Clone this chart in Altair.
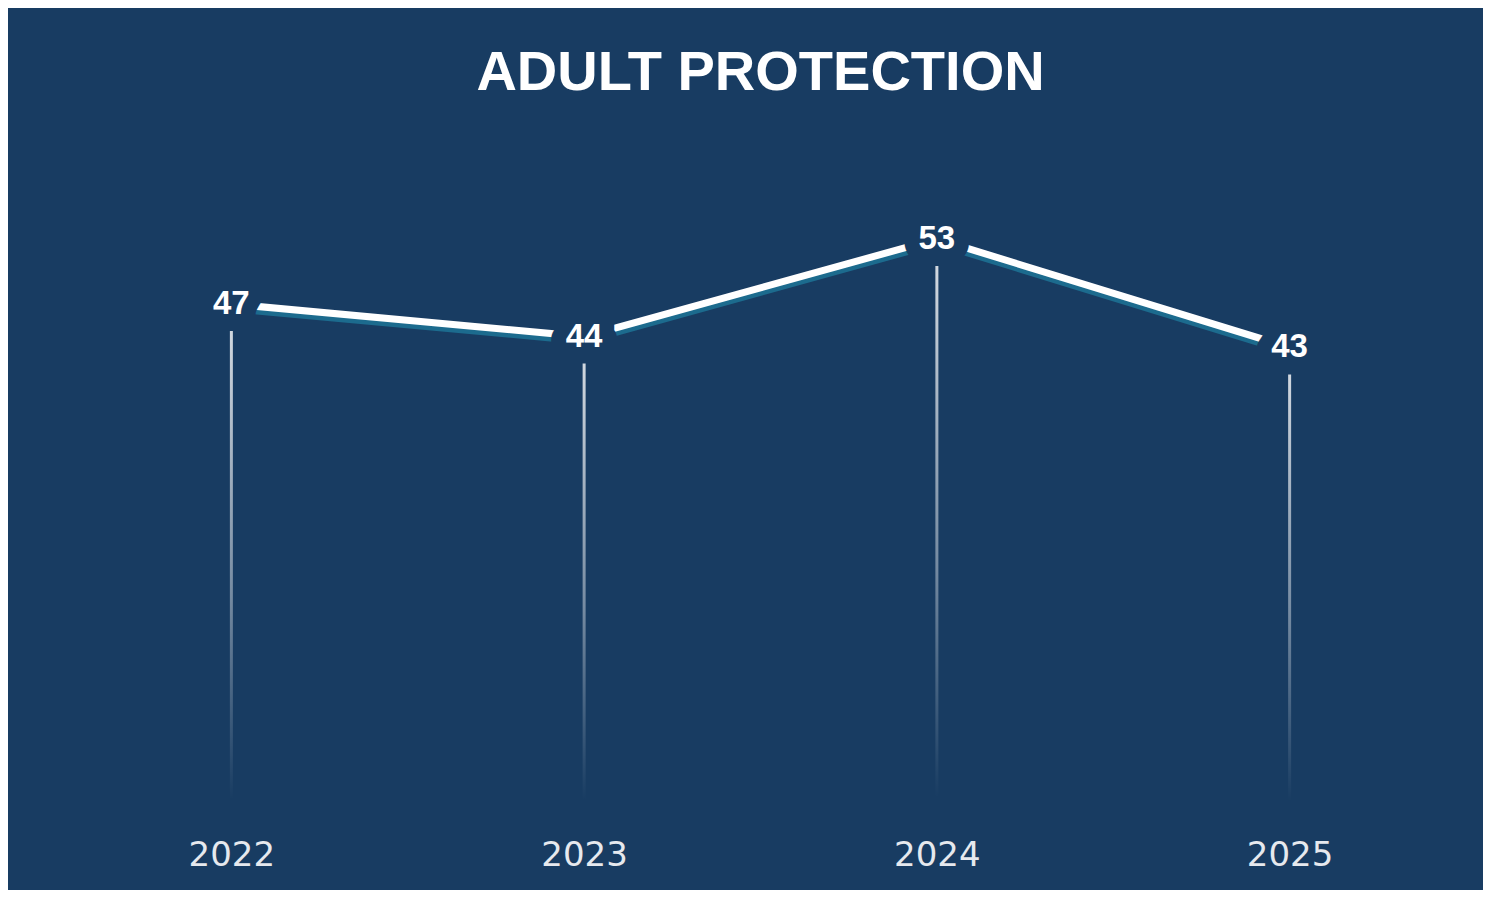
import altair as alt
import pandas as pd

years = ["2022", "2023", "2024", "2025"]
values = [47, 44, 53, 43]
df = pd.DataFrame({"year": years, "value": values})

BG = "#183c62"

x = alt.X(
    "year:O",
    scale=alt.Scale(type="point", padding=0.5),
    axis=alt.Axis(
        title=None, labelAngle=0, domain=False, ticks=False, grid=False,
        labelFont="DejaVu Sans", labelFontSize=34, labelColor="#e6e9ee",
        labelPadding=24,
    ),
)
y = alt.Y("value:Q", scale=alt.Scale(domain=[0, 60]), axis=None)

base = alt.Chart(df)

grad = alt.Gradient(
    gradient="linear",
    stops=[
        alt.GradientStop(color="rgba(255,255,255,0.8)", offset=0),
        alt.GradientStop(color="rgba(255,255,255,0.4)", offset=0.55),
        alt.GradientStop(color="rgba(255,255,255,0)", offset=0.97),
        alt.GradientStop(color="rgba(255,255,255,0)", offset=1),
    ],
    x1=0, x2=0, y1=0, y2=1,
)

bars = base.mark_bar(color=grad, size=3, yOffset=27).encode(x=x, y=y, y2=alt.datum(0))
shadow = base.mark_line(color="#1c6b8e", strokeWidth=7, yOffset=4.5).encode(x=x, y=y)
line = base.mark_line(color="#ffffff", strokeWidth=7).encode(x=x, y=y)
halo = base.mark_text(
    font="Liberation Sans", fontSize=33, fontWeight="bold",
    stroke=BG, strokeWidth=30, strokeJoin="round", color=BG,
).encode(x=x, y=y, text="value:Q")
labels = base.mark_text(
    font="Liberation Sans", fontSize=33, fontWeight="bold", color="#ffffff",
).encode(x=x, y=y, text="value:Q")

chart = (
    alt.layer(bars, shadow, line, halo, labels)
    .properties(
        width=1411,
        height=651,
        title=alt.Title(
            "ADULT PROTECTION", font="Liberation Sans", fontSize=56,
            fontWeight="bold", color="#ffffff", anchor="middle",
            baseline="alphabetic", offset=17,
        ),
        autosize=alt.AutoSizeParams(type="none"),
        padding={"left": 47, "top": 155, "right": 17, "bottom": 76},
    )
    .configure(background=BG)
    .configure_view(stroke=None)
)

chart.save("out.html", embed_options={"renderer": "svg", "actions": False})
